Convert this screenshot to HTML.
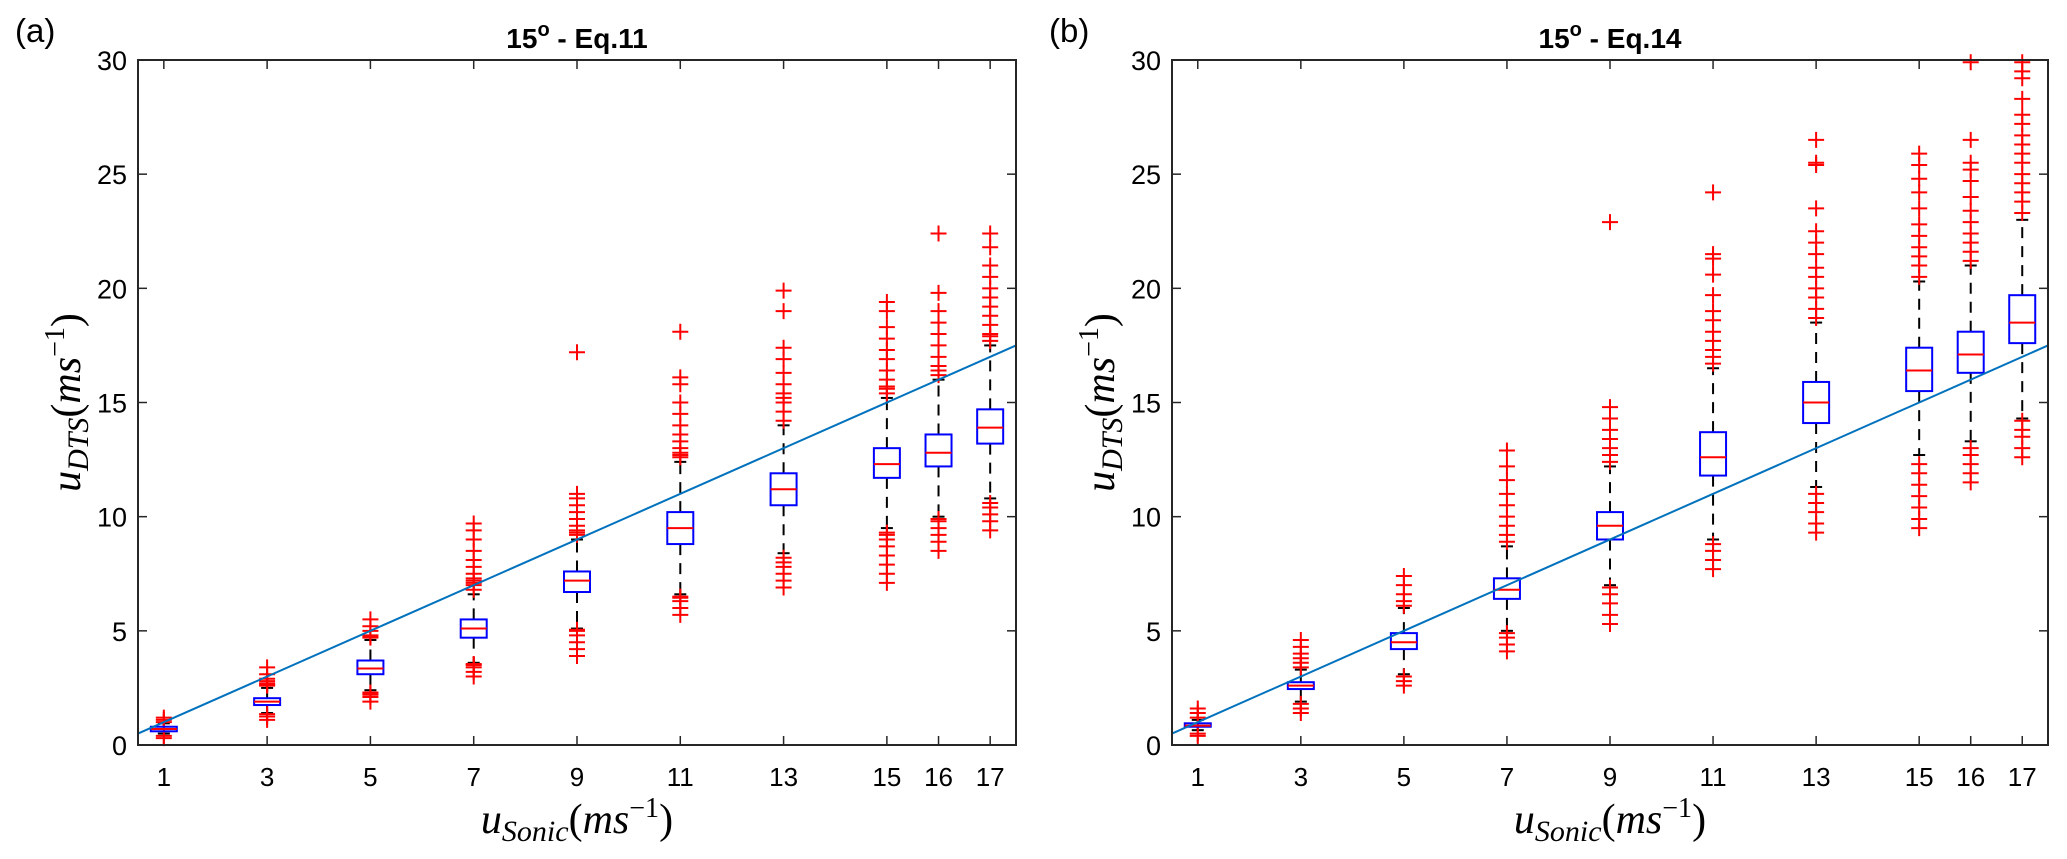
<!DOCTYPE html>
<html><head><meta charset="utf-8"><style>
html,body{margin:0;padding:0;background:#fff;}
svg{display:block;}
text{font-family:"Liberation Sans",sans-serif;fill:#000;}
.math{font-family:"Liberation Serif",serif;font-style:italic;}
</style></head><body>
<svg id="fig" width="2067" height="859" viewBox="0 0 2067 859" xmlns="http://www.w3.org/2000/svg"></svg>
<script>
const categories = [1,3,5,7,9,11,13,15,16,17];
const xTicks = [1,3,5,7,9,11,13,15,16,17];
const yTicks = [0,5,10,15,20,25,30];
const titles = ["15", "15"];
const titleEq = [" - Eq.11", " - Eq.14"];
const panelLabels = ["(a)", "(b)"];
// Panel a
const aMed = [0.7,1.9,3.35,5.1,7.2,9.5,11.2,12.3,12.8,13.9];
const aQ1  = [0.6,1.75,3.1,4.7,6.7,8.8,10.5,11.7,12.2,13.2];
const aQ3  = [0.8,2.05,3.7,5.5,7.6,10.2,11.9,13.0,13.6,14.7];
const aLo  = [0.5,1.4,2.4,3.6,5.1,6.6,8.4,9.5,10.0,10.8];
const aHi  = [0.95,2.5,4.6,6.6,9.0,12.4,14.0,15.2,16.0,17.5];
const aOut = [
 [0.3,0.4,1.0,1.1,1.2],
 [1.1,1.25,1.35,2.6,2.65,2.7,2.8,2.9,3.1,3.4],
 [1.9,2.1,2.2,2.25,2.3,4.7,4.75,4.8,5.0,5.2,5.5],
 [3.0,3.2,3.4,3.5,3.55,6.8,7.0,7.1,7.2,7.3,7.5,7.8,8.1,8.5,9.0,9.4,9.7],
 [3.9,4.2,4.5,4.8,5.0,5.05,9.2,9.3,9.4,9.6,9.9,10.2,10.5,10.8,11.0,17.2],
 [5.7,6.0,6.3,6.45,6.5,12.6,12.7,12.8,13.0,13.3,13.6,14.0,14.5,15.0,15.8,16.1,18.1],
 [6.9,7.2,7.5,7.8,8.0,8.2,14.2,14.6,15.0,15.2,15.4,15.8,16.3,16.9,17.4,19.0,19.9],
 [7.1,7.5,7.9,8.3,8.7,9.0,9.2,9.3,15.4,15.6,15.7,16.0,16.4,16.9,17.3,17.8,18.3,19.0,19.4],
 [8.5,8.9,9.2,9.5,9.8,9.9,16.2,16.4,16.6,17.0,17.5,18.0,18.5,19.0,19.8,22.4],
 [9.4,9.8,10.1,10.4,10.6,17.7,17.9,18.0,18.4,18.8,19.2,19.6,20.0,20.5,21.0,21.8,22.4]
];
// Panel b
const bMed = [0.85,2.6,4.5,6.8,9.6,12.6,15.0,16.4,17.1,18.5];
const bQ1  = [0.8,2.45,4.2,6.4,9.0,11.8,14.1,15.5,16.3,17.6];
const bQ3  = [0.95,2.75,4.9,7.3,10.2,13.7,15.9,17.4,18.1,19.7];
const bLo  = [0.65,1.9,3.1,5.0,7.0,9.0,11.3,12.7,13.3,14.3];
const bHi  = [1.1,3.3,6.0,8.7,12.2,16.5,18.5,20.3,21.0,23.0];
const bOut = [
 [0.4,0.5,1.2,1.4,1.6],
 [1.4,1.6,1.8,3.4,3.6,3.8,4.0,4.3,4.6],
 [2.6,2.8,3.0,6.1,6.3,6.6,7.0,7.4],
 [4.1,4.4,4.7,4.9,8.9,9.2,9.6,10.0,10.5,11.0,11.6,12.2,12.9],
 [5.3,5.7,6.2,6.6,6.9,12.4,12.7,13.0,13.4,13.8,14.3,14.8,22.9],
 [7.7,8.1,8.5,8.8,16.7,17.0,17.3,17.7,18.1,18.6,19.0,19.7,20.6,21.3,21.5,24.2],
 [9.3,9.7,10.2,10.6,11.0,18.7,19.1,19.6,20.0,20.5,20.9,21.5,22.0,22.5,23.5,25.4,25.5,26.5],
 [9.5,9.9,10.4,10.9,11.4,11.9,12.3,20.5,21.0,21.4,21.8,22.3,22.8,23.5,24.2,24.8,25.4,25.9],
 [11.5,11.9,12.3,12.7,13.0,21.2,21.6,22.0,22.4,22.9,23.4,24.0,24.7,25.2,25.5,26.5,29.9],
 [12.6,13.0,13.5,13.8,14.2,23.3,23.8,24.2,24.6,25.0,25.5,25.9,26.3,26.7,27.2,27.6,28.3,29.2,29.5,29.9]
];
const lineX = [0.5,17.5];

const NS="http://www.w3.org/2000/svg";
const svg=document.getElementById('fig');
function mk(tag,attrs,parent){const e=document.createElementNS(NS,tag);for(const k in attrs)e.setAttribute(k,attrs[k]);(parent||svg).appendChild(e);return e;}

const Y0=745, Y1=60, XMIN=0.5, XMAX=17.5, YMAX=30;
function drawPanel(pi,left,right,med,q1,q3,lo,hi,outs){
  const g=mk('g',{});
  
  
  const sx=v=>left+(v-XMIN)/(XMAX-XMIN)*(right-left);
  const sy=v=>Y0-v/YMAX*(Y0-Y1);
  const pl=mk('text',{x:left-123,y:42,'font-size':33},g);pl.textContent=panelLabels[pi];
  
  
  const t=mk('text',{x:(left+right)/2,y:48,'font-size':28,'font-weight':'bold','text-anchor':'middle'},g);
  
  
  const ts1=mk('tspan',{},t);ts1.textContent=titles[pi];
  const ts2=mk('tspan',{dy:-12,'font-size':20},t);ts2.textContent='o';
  const ts3=mk('tspan',{dy:12},t);ts3.textContent=titleEq[pi];
  xTicks.forEach(v=>{
    const x=sx(v);
    const l1=mk('line',{x1:x,x2:x,y1:Y0,y2:Y0-9,stroke:'#262626','stroke-width':1.5},g);
    
    
    mk('line',{x1:x,x2:x,y1:Y1,y2:Y1+9,stroke:'#262626','stroke-width':1.5},g);
    const tx=mk('text',{x:x,y:786,'font-size':26,'text-anchor':'middle'},g);tx.textContent=v;
    
    
  });
  yTicks.forEach(v=>{
    const y=sy(v);
    const l1=mk('line',{x1:left,x2:left+9,y1:y,y2:y,stroke:'#262626','stroke-width':1.5},g);
    
    
    mk('line',{x1:right,x2:right-9,y1:y,y2:y,stroke:'#262626','stroke-width':1.5},g);
    const ty=mk('text',{x:left-11,y:y+10,'font-size':27,'text-anchor':'end'},g);ty.textContent=v;
    
    
  });
  const bw=26, cw=16;
  categories.forEach((c,i)=>{
    const x=sx(c);
    const bg=mk('g',{},g);
    
    
    mk('line',{x1:x,x2:x,y1:sy(q3[i]),y2:sy(hi[i]),stroke:'#000','stroke-width':2,'stroke-dasharray':'11,8'},bg);
    mk('line',{x1:x,x2:x,y1:sy(q1[i]),y2:sy(lo[i]),stroke:'#000','stroke-width':2,'stroke-dasharray':'11,8'},bg);
    mk('line',{x1:x-6,x2:x+6,y1:sy(hi[i]),y2:sy(hi[i]),stroke:'#000','stroke-width':2},bg);
    mk('line',{x1:x-6,x2:x+6,y1:sy(lo[i]),y2:sy(lo[i]),stroke:'#000','stroke-width':2},bg);
    outs[i].forEach(v=>{
      const y=sy(v);
      const p=mk('path',{d:`M${x-cw/2},${y}H${x+cw/2}M${x},${y-cw/2}V${y+cw/2}`,stroke:'#ff0000','stroke-width':2,fill:'none'},bg);
      
      
    });
    mk('rect',{x:x-bw/2,y:sy(q3[i]),width:bw,height:Math.max(1,sy(q1[i])-sy(q3[i])),fill:'none',stroke:'#0000ff','stroke-width':2},bg);
    mk('line',{x1:x-bw/2,x2:x+bw/2,y1:sy(med[i]),y2:sy(med[i]),stroke:'#ff0000','stroke-width':2},bg);
  });
  const rl=mk('line',{x1:sx(lineX[0]),y1:sy(lineX[0]),x2:sx(lineX[1]),y2:sy(lineX[1]),stroke:'#0072bd','stroke-width':2},g);
  
  
  const fr=mk('rect',{x:left,y:Y1,width:right-left,height:Y0-Y1,fill:'none',stroke:'#262626','stroke-width':2},g);
  
  
  const xl=mk('text',{x:(left+right)/2,y:833,'font-size':42,'text-anchor':'middle','class':'math'},g);
  
  
  xl.innerHTML='u<tspan font-size="30" dy="8">Sonic</tspan><tspan dy="-8" font-style="normal">(</tspan>ms<tspan font-size="28" dy="-16" font-style="normal">−1</tspan><tspan dy="16" font-style="normal">)</tspan>';
  const yl=mk('text',{x:0,y:0,'font-size':42,'text-anchor':'middle','class':'math',transform:`translate(${left-58},${(Y0+Y1)/2}) rotate(-90)`},g);
  
  
  yl.innerHTML='u<tspan font-size="30" dy="8">DTS</tspan><tspan dy="-8" font-style="normal">(</tspan>ms<tspan font-size="28" dy="-16" font-style="normal">−1</tspan><tspan dy="16" font-style="normal">)</tspan>';
}
drawPanel(0,138,1016,aMed,aQ1,aQ3,aLo,aHi,aOut);
drawPanel(1,1172,2048,bMed,bQ1,bQ3,bLo,bHi,bOut);
</script>
</body></html>
